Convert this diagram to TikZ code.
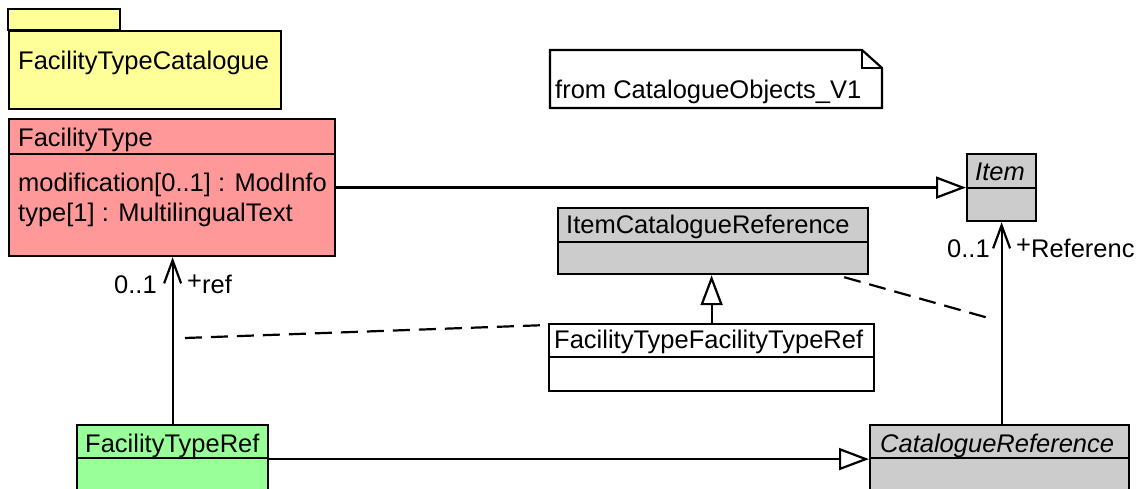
\documentclass[tikz,border=0pt]{standalone}
\usepackage{fontspec}
\setmainfont{Liberation Sans}
\usetikzlibrary{arrows.meta,calc}

\definecolor{pkgyellow}{RGB}{255,255,153}
\definecolor{ftred}{RGB}{255,153,153}
\definecolor{refgreen}{RGB}{153,255,153}
\definecolor{absgray}{RGB}{204,204,204}

\begin{document}
\begin{tikzpicture}[x=1pt, y=-1pt,
  box/.style={draw, line width=2.2pt, anchor=north west, inner sep=0pt},
  txt/.style={anchor=base west, inner sep=0pt, font=\fontsize{25.5}{30}\selectfont},
  assoc/.style={line width=2.2pt, -{Straight Barb[length=23pt, width=17pt]}},
  gen/.style={line width=2.2pt, -{Triangle[open, length=30pt, width=22pt, fill=white]}},
  link/.style={line width=2.2pt, dash pattern=on 17pt off 9pt}]
  \useasboundingbox (0,0) rectangle (1146,489);
  \clip (0,0) rectangle (1146,489);
  \fill[white] (0,0) rectangle (1146,489);

  % package with its tab
  \draw[line width=2.2pt, fill=pkgyellow] (8,9) rectangle (120,30);
  \node[box, fill=pkgyellow, minimum width=272pt, minimum height=78pt] (pkg) at (8,30) {};
  \node[txt] (pkgname) at ([xshift=10pt,yshift=-40pt]pkg.north west) {FacilityTypeCatalogue};

  % note with folded corner
  \draw[line width=2.2pt, fill=white] (550,50) -- (862,50) -- (882,68) -- (882,108) -- (550,108) -- cycle;
  \draw[line width=1.8pt] (862,50) -- (862,68) -- (882,68);
  \node[txt] (note) at (555,99) {from CatalogueObjects\_V1};

  % class boxes: name/x/y/width/height/header/fill
  \foreach \nm/\x/\y/\w/\h/\d/\col in {
    ft/8/118/326/137/36/ftred,
    item/966/153/69/67/35/absgray,
    icr/557/207/310/66/35/absgray,
    ftft/548/323/325/67/34/white,
    ftref/76/424/191/68/34/refgreen,
    catref/869/424/259/68/34/absgray}
  {
    \node[box, fill=\col, minimum width=\w pt, minimum height=\h pt] (\nm) at (\x,\y) {};
    \draw[line width=2.2pt] ([yshift=-\d pt]\nm.north west) -- ([yshift=-\d pt]\nm.north east);
  }

  \node[txt] (ftname) at ([xshift=10pt,yshift=-29pt]ft.north west) {FacilityType};
  \node[txt] (ftattra) at ([xshift=10pt,yshift=-74pt]ft.north west) {modification[0..1] : ModInfo};
  \node[txt] (ftattrb) at ([xshift=10pt,yshift=-104pt]ft.north west) {type[1] : MultilingualText};
  \node[txt] (itemname) at ([xshift=9pt,yshift=-28pt]item.north west) {\itshape Item};
  \node[txt] (icrname) at ([xshift=9pt,yshift=-27pt]icr.north west) {ItemCatalogueReference};
  \node[txt] (ftftname) at ([xshift=6pt,yshift=-25pt]ftft.north west) {FacilityTypeFacilityTypeRef};
  \node[txt] (ftrefname) at ([xshift=9pt,yshift=-28pt]ftref.north west) {FacilityTypeRef};
  \node[txt] (catrefname) at ([xshift=11pt,yshift=-28pt]catref.north west) {\itshape CatalogueReference};

  % generalizations
  \draw[gen] (ft.east) -- (item.west);
  \draw[gen] (ftft.north) -- (ftft.north |- icr.south);
  \draw[gen] (ftref.east) -- (catref.west);

  % associations
  \draw[assoc] (ftref.north) -- (ftref.north |- ft.south);
  \draw[assoc] (item.south |- catref.north) -- (item.south);
  \node[txt] (ftmult) at (114,293) {0..1};
  \node[txt] (ftrole) at (187,293) {\raisebox{4pt}{+}ref};
  \node[txt] (itemmult) at (947,258) {0..1};
  \node[txt] (itemrole) at (1016,258) {\raisebox{4pt}{+}Referenc};

  % association class links
  \coordinate (refmid) at (185,338);
  \coordinate (refcmid) at (992,319);
  \draw[link] (refmid) -- ([yshift=-2pt]ftft.north west);
  \draw[link] ([xshift=-25pt,yshift=-2pt]icr.south east) -- (refcmid);
\end{tikzpicture}
\end{document}
